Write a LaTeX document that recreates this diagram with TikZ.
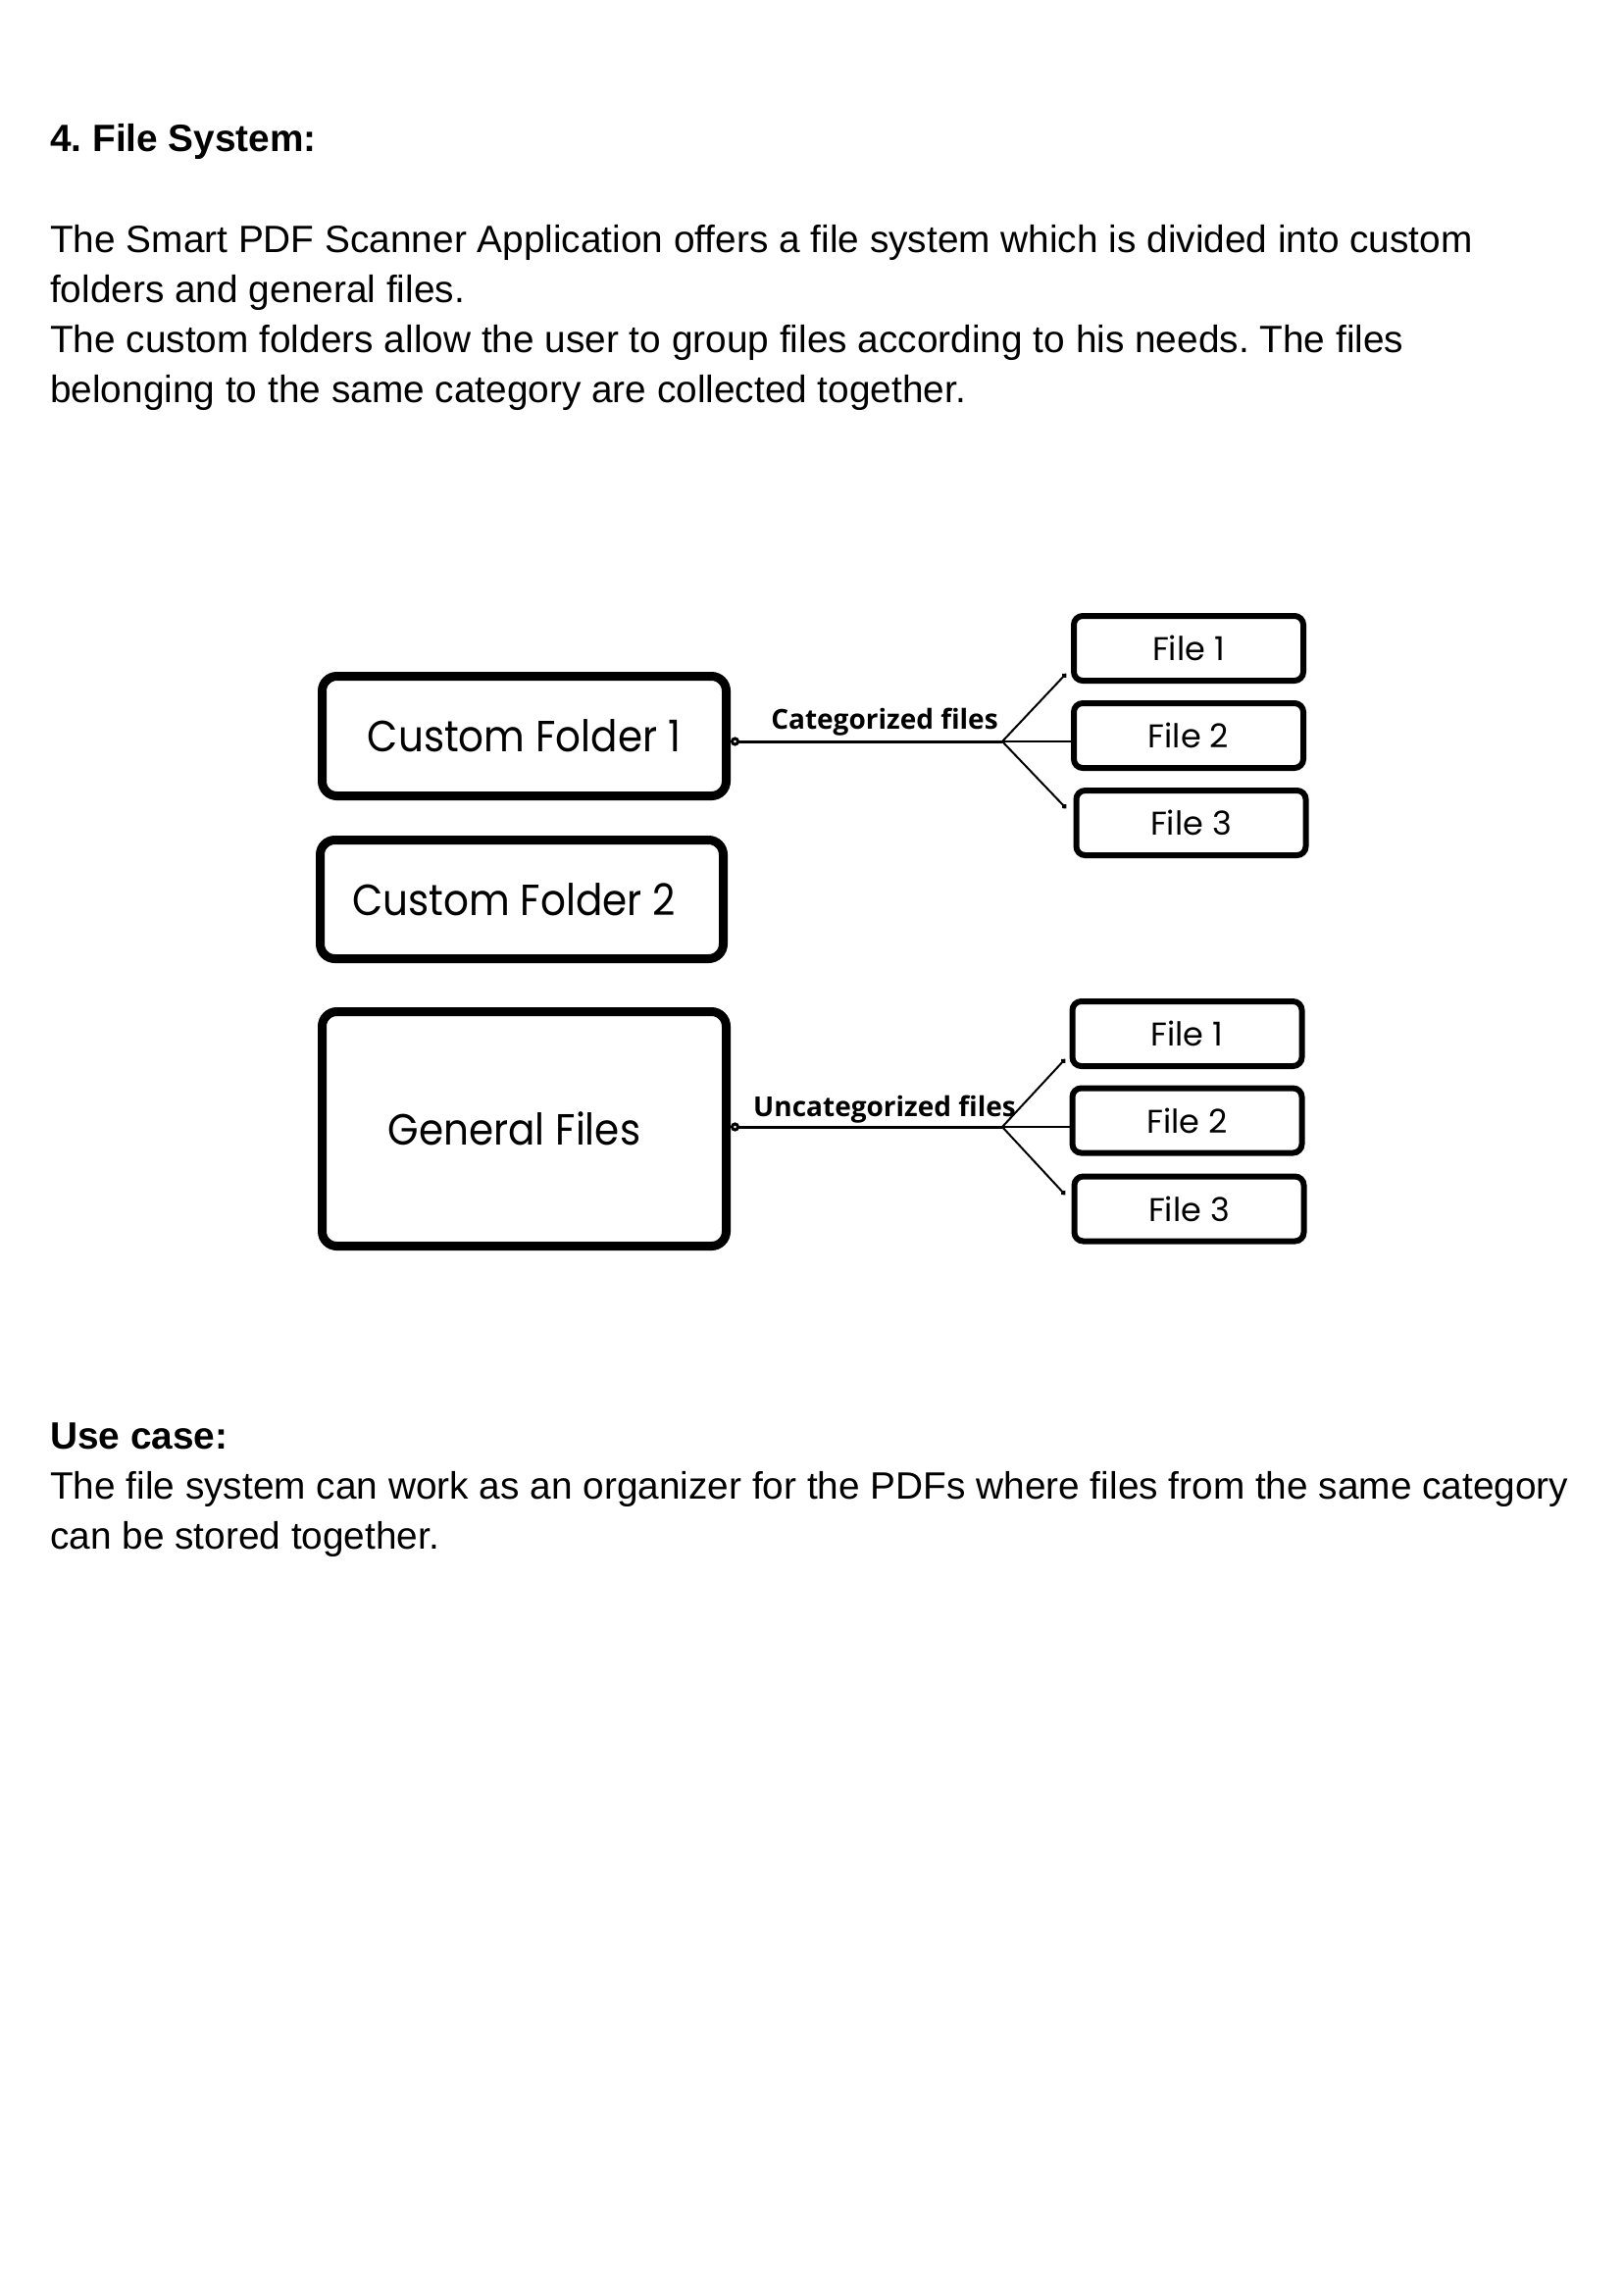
\documentclass[tikz,border=0pt]{standalone}
\usepackage{fontspec}
\setmainfont{Liberation Sans}
\newfontfamily\canva[FakeStretch=0.91]{Poppins}
\newfontfamily\canvaf{Poppins}
\newfontfamily\osans{Open Sans}
\usetikzlibrary{arrows.meta}
\frenchspacing
\begin{document}
\begin{tikzpicture}[x=1pt,y=-1pt,
  body/.style={anchor=base west, inner sep=0pt, font=\fontsize{38.8}{44}\selectfont},
  head/.style={anchor=base west, inner sep=0pt, font=\fontsize{38.8}{44}\selectfont\bfseries},
  folder/.style={draw, line width=9pt, rounded corners=15pt, minimum width=412pt, minimum height=122pt, inner sep=0pt, font=\canva\fontsize{44.5}{50}\selectfont},
  filebox/.style={draw, line width=6pt, rounded corners=9pt, minimum width=234pt, minimum height=66pt, inner sep=0pt, font=\canvaf\fontsize{33.5}{38}\selectfont},
  lbl/.style={anchor=base, inner sep=0pt, font=\osans\bfseries\fontsize{28}{32}\selectfont},
  trunk/.style={line width=3pt},
  branch/.style={line width=2pt},
]
\fill[white] (0,0) rectangle (1656,2339);
\useasboundingbox (0,0) rectangle (1656,2339);

\node[head] (h) at (51,154) {4. File System:};
\node[body] (p1) at (51,257) {The Smart PDF Scanner Application offers a file system which is divided into custom};
\node[body] (p2) at (51,308) {folders and general files.};
\node[body] (p3) at (51,359) {The custom folders allow the user to group files according to his needs. The files};
\node[body] (p4) at (51,410) {belonging to the same category are collected together.};
\node[head] (u) at (51,1477) {Use case:};
\node[body] (u1) at (51,1528) {The file system can work as an organizer for the PDFs where files from the same category};
\node[body] (u2) at (51,1579) {can be stored together.};

\node[folder] (cf1) at (534.5,750.5) {Custom Folder 1};
\node[folder, minimum width=411pt, minimum height=121pt] (cf2) at (532,917) {\hspace*{-16pt}Custom Folder 2};
\node[folder, minimum height=239pt] (gf) at (534.5,1151) {\hspace*{-20pt}General Files};

\node[filebox] (fa1) at (1212,661) {File 1};
\node[filebox] (fa2) at (1212,750) {File 2};
\node[filebox] (fa3) at (1214.5,839) {File 3};
\node[filebox] (fb1) at (1210.5,1054) {File 1};
\node[filebox] (fb2) at (1210.5,1142.5) {File 2};
\node[filebox] (fb3) at (1212.5,1232.5) {File 3};

\coordinate (ja) at (1022,756);
\coordinate (ta) at (1087,687);
\coordinate (ba) at (1087,824);
\coordinate (jb) at (1022,1149);
\coordinate (tb) at (1086,1080);
\coordinate (bb) at (1086,1218);

\draw[trunk, {Circle[open,length=9pt,width=9pt,fill=white]}-] (cf1.east |- ja) -- (ja);
\draw[branch] (ja) -- (fa2.west |- ja);
\draw[branch, -{Circle[length=5pt]}] (ja) -- (ta);
\draw[branch, -{Circle[length=5pt]}] (ja) -- (ba);

\draw[trunk, {Circle[open,length=9pt,width=9pt,fill=white]}-] (gf.east |- jb) -- (jb);
\draw[branch] (jb) -- (fb2.west |- jb);
\draw[branch, -{Circle[length=5pt]}] (jb) -- (tb);
\draw[branch, -{Circle[length=5pt]}] (jb) -- (bb);

\node[lbl] (la) at (902,743) {Categorized files};
\node[lbl] (lb) at (902,1138) {Uncategorized files};
\end{tikzpicture}
\end{document}
